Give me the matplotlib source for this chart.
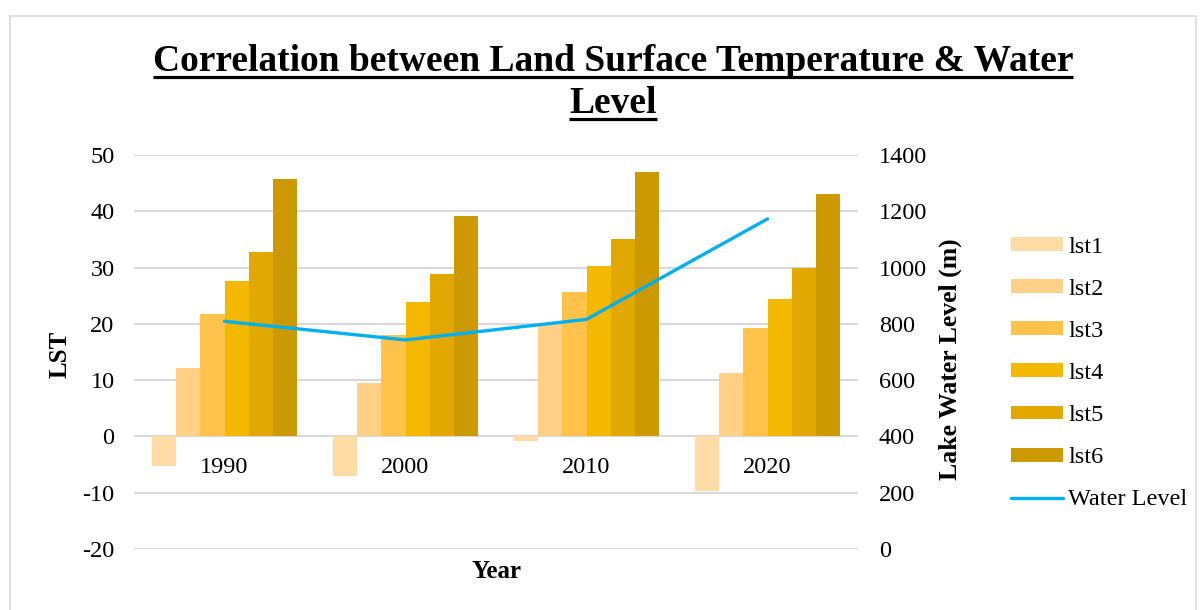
import matplotlib
matplotlib.use("Agg")
import matplotlib.pyplot as plt
from matplotlib.lines import Line2D
from matplotlib.patches import Rectangle, Patch
import numpy as np

# Data
years = ["1990", "2000", "2010", "2020"]
lst1 = [-5.3, -7.0, -0.8, -9.7]
lst2 = [12.1, 9.5, 20.0, 11.2]
lst3 = [21.8, 18.1, 25.7, 19.3]
lst4 = [27.7, 23.8, 30.3, 24.5]
lst5 = [32.8, 28.8, 35.1, 29.9]
lst6 = [45.7, 39.2, 46.9, 43.1]
water_level = [809, 743, 816, 1173]

series = [("lst1", lst1), ("lst2", lst2), ("lst3", lst3),
          ("lst4", lst4), ("lst5", lst5), ("lst6", lst6)]
colors = ["#FFDBA6", "#FFD085", "#FFC34C", "#F5B800", "#E0A800", "#CC9A00"]
line_color = "#00B0F0"
grid_color = "#D9D9D9"

plt.rcParams["font.family"] = ["Liberation Serif", "DejaVu Serif"]
plt.rcParams["axes.unicode_minus"] = False

W, H = 1200, 610
fig = plt.figure(figsize=(W / 100, H / 100), dpi=100)

def fx(px):
    return px / W

def fy(py):
    return 1 - py / H

# Chart area border
fig.add_artist(Rectangle((fx(10), fy(640)), fx(1196) - fx(10), fy(16) - fy(640),
                         transform=fig.transFigure, fill=False,
                         edgecolor=grid_color, linewidth=1.2))

ax = fig.add_axes([fx(134), fy(549), fx(858) - fx(134), fy(155) - fy(549)])
ax2 = ax.twinx()

x = np.arange(len(years))
group_w = 0.8
bw = group_w / len(series)
for i, ((name, vals), c) in enumerate(zip(series, colors)):
    ax.bar(x - group_w / 2 + bw * (i + 0.5), vals, width=bw, color=c,
           edgecolor="none", label=name, zorder=3)

tick_fs = 17.5
ax.set_xlim(-0.5, len(years) - 0.5)
ax.set_ylim(-20, 50)
ax.set_yticks(np.arange(-20, 51, 10))
ax.yaxis.grid(True, color=grid_color, linewidth=1.5, zorder=0)
ax.set_axisbelow(True)
ax.set_xticks(x)
ax.set_xticklabels(years)
ax.spines["bottom"].set_position(("data", 0))
for s in ax.spines.values():
    s.set_visible(False)
ax.tick_params(axis="x", length=0, pad=15, labelsize=tick_fs)
ax.tick_params(axis="y", length=0, pad=14, labelsize=tick_fs)

ax2.plot(x, water_level, color=line_color, linewidth=2.4, zorder=5,
         solid_capstyle="round", label="Water Level")
ax2.set_ylim(0, 1400)
ax2.set_yticks(np.arange(0, 1401, 200))
for s in ax2.spines.values():
    s.set_visible(False)
ax2.tick_params(axis="y", length=0, pad=15, labelsize=tick_fs)

# Axis titles
fig.text(fx(60), fy(354), "LST", rotation=90, ha="center", va="center",
         fontsize=18, fontweight="bold")
fig.text(fx(950), fy(359), "Lake Water Level (m)", rotation=90, ha="center",
         va="center", fontsize=18.5, fontweight="bold")
fig.text(fx(496), fy(572), "Year", ha="center", va="center",
         fontsize=18, fontweight="bold")

# Title (two lines, underlined)
title_lines = ["Correlation between Land Surface Temperature & Water", "Level"]
baselines = [71, 113]
title_texts = []
for line, b in zip(title_lines, baselines):
    t = fig.text(fx(613), fy(b), line, ha="center", va="baseline",
                 fontsize=27, fontweight="bold")
    title_texts.append((t, b))

fig.canvas.draw()
renderer = fig.canvas.get_renderer()
for t, b in title_texts:
    bb = t.get_window_extent(renderer)
    fig.add_artist(Line2D([bb.x0 / W, bb.x1 / W], [fy(b + 6), fy(b + 6)],
                          transform=fig.transFigure, color="black",
                          linewidth=2.3, solid_capstyle="butt"))

# Legend
handles = [Patch(facecolor=c, edgecolor="none") for c in colors]
handles.append(Line2D([], [], color=line_color, linewidth=2.4,
                      solid_capstyle="round"))
labels = [n for n, _ in series] + ["Water Level"]
fig.legend(handles, labels, loc="center left",
           bbox_to_anchor=(fx(1011), fy(373.5)), frameon=False,
           fontsize=tick_fs, handlelength=2.15, handleheight=0.5,
           handletextpad=0.2, labelspacing=0.87, borderpad=0,
           borderaxespad=0)

fig.savefig("out.png", dpi=100)
